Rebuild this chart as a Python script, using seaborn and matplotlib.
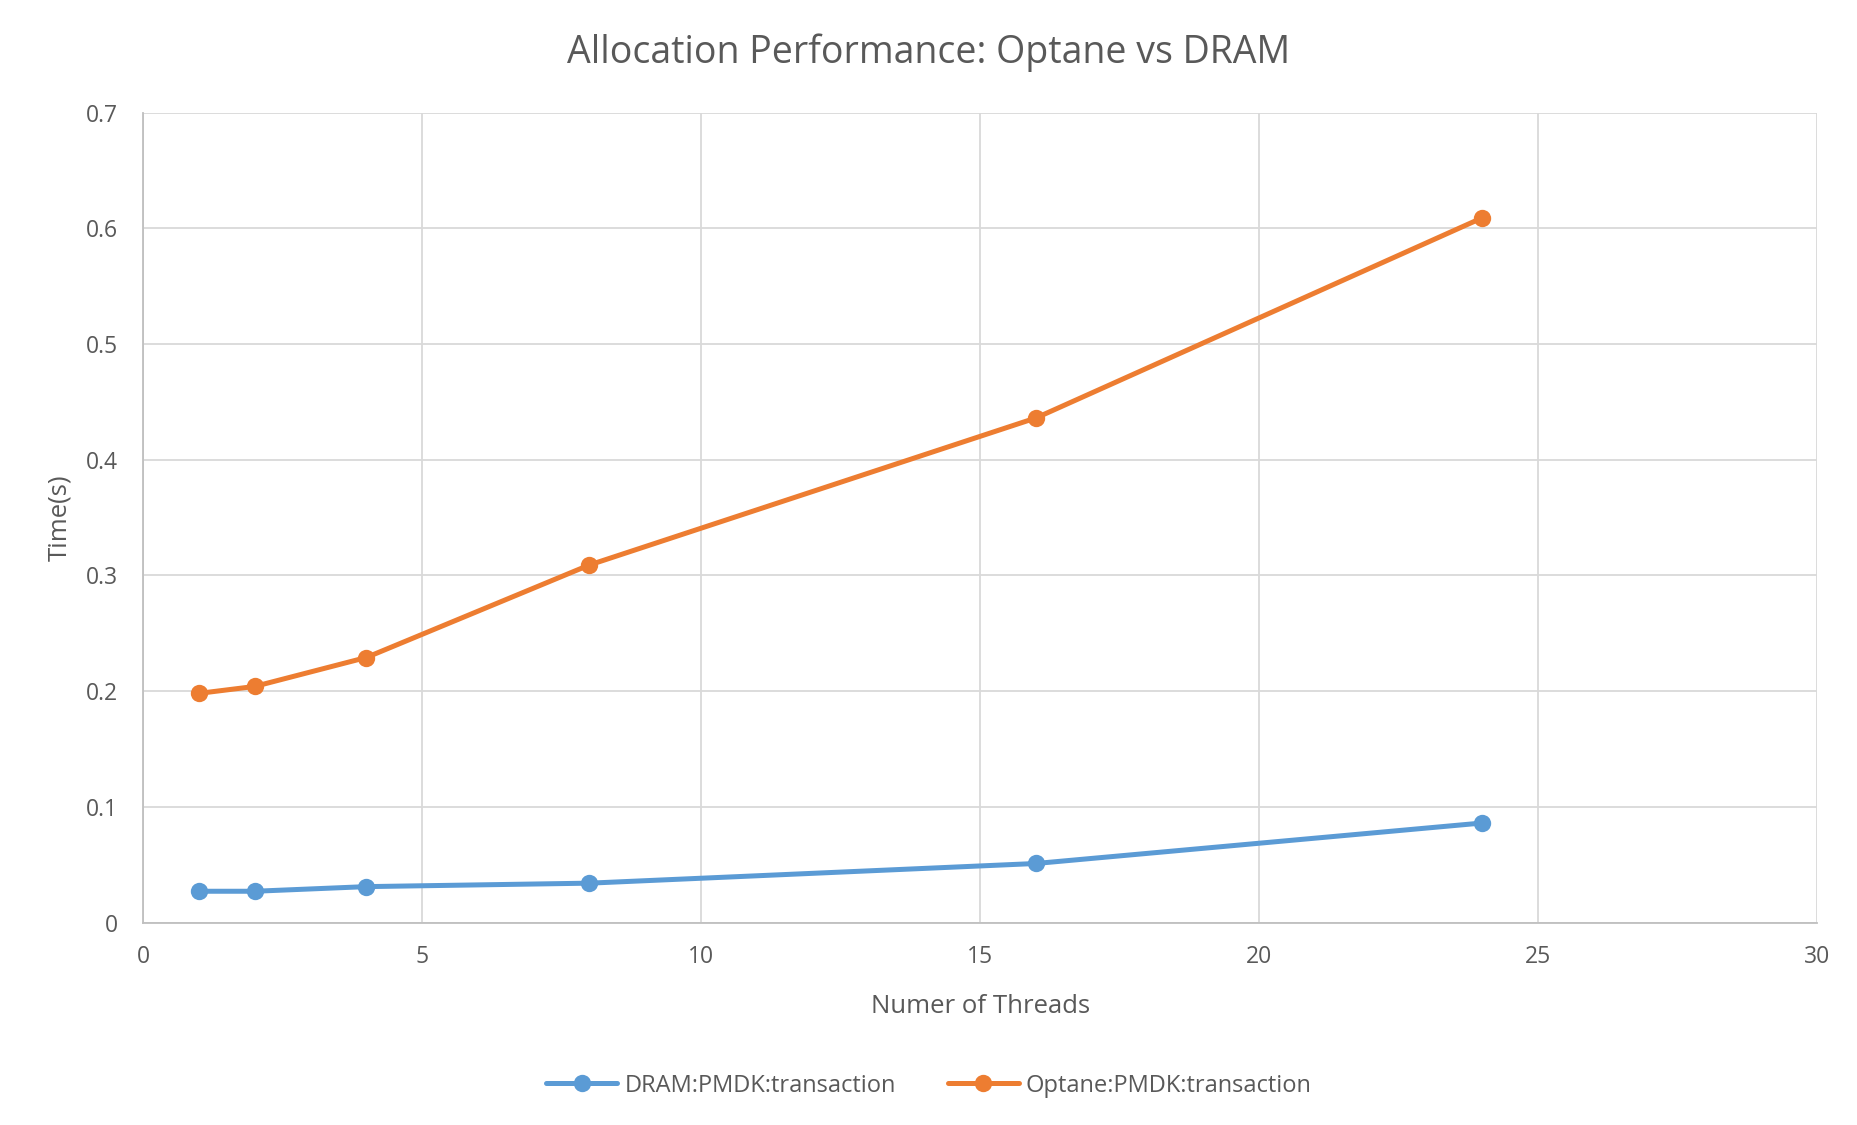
import pandas as pd
import seaborn as sns
import matplotlib.pyplot as plt

# Datos
threads = [1, 2, 4, 8, 16, 24]
dram_time = [0.027, 0.027, 0.031, 0.034, 0.051, 0.086]
optane_time = [0.198, 0.204, 0.229, 0.309, 0.436, 0.609]
series_names = ["DRAM:PMDK:transaction", "Optane:PMDK:transaction"]
colors = ["#5B9BD5", "#ED7D31"]

df = pd.DataFrame({
    "threads": threads * 2,
    "time": dram_time + optane_time,
    "series": [series_names[0]] * len(threads) + [series_names[1]] * len(threads),
})

sns.set_theme(style="white")
plt.rcParams['font.family'] = ['Open Sans', 'DejaVu Sans']
text_color = "#595959"

fig = plt.figure(figsize=(18.58, 11.25), dpi=100)
ax = fig.add_axes([0.077, 0.18, 0.901, 0.72])

sns.lineplot(
    data=df, x="threads", y="time", hue="series",
    palette=colors, marker="o", markersize=12.5, markeredgewidth=0,
    linewidth=3.6, ax=ax,
)

ax.set_xlim(0, 30)
ax.set_ylim(0, 0.7)
ax.set_xticks(range(0, 31, 5))
ax.set_yticks([0, 0.1, 0.2, 0.3, 0.4, 0.5, 0.6, 0.7])
ax.set_yticklabels(["0", "0.1", "0.2", "0.3", "0.4", "0.5", "0.6", "0.7"])
ax.grid(True, color="#D9D9D9", linewidth=1.3)
ax.set_axisbelow(True)
for side in ["top", "right"]:
    ax.spines[side].set_visible(False)
for side in ["left", "bottom"]:
    ax.spines[side].set_color("#BFBFBF")
    ax.spines[side].set_linewidth(1.3)

ax.tick_params(axis="x", labelsize=16.5, colors=text_color, length=0, pad=16)
ax.tick_params(axis="y", labelsize=16.5, colors=text_color, length=0, pad=18)
ax.set_xlabel("Numer of Threads", fontsize=18.5, color=text_color, labelpad=18)
ax.set_ylabel("Time(s)", fontsize=18.5, color=text_color, labelpad=10)

fig.suptitle("Allocation Performance: Optane vs DRAM", fontsize=27,
             color=text_color, y=0.97)

handles, labels = ax.get_legend_handles_labels()
ax.legend_.remove()
fig.legend(handles, labels, loc="center", bbox_to_anchor=(0.5, 0.035), ncol=2,
           frameon=False, fontsize=17, labelcolor=text_color,
           handlelength=3, columnspacing=2.2, handletextpad=0.3)

plt.savefig("out.png", dpi=100)
plt.close()
